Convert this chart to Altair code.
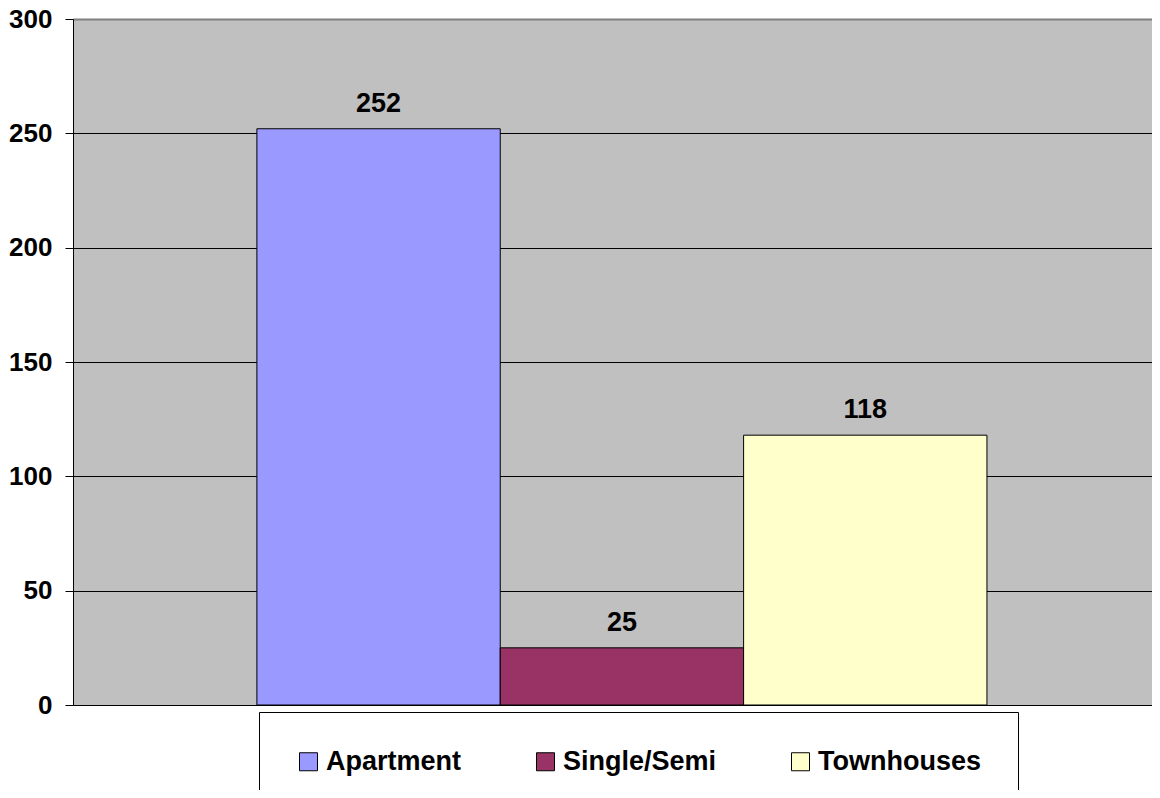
import altair as alt
import pandas as pd

categories = ["Apartment", "Single/Semi", "Townhouses"]
values = [252, 25, 118]
colors = ["#9999FF", "#993366", "#FFFFCC"]
y_ticks = [0, 50, 100, 150, 200, 250, 300]

df = pd.DataFrame({"type": categories, "value": values})

FONT = "Liberation Sans"
FS = 27

x_enc = alt.X(
    "type:N",
    sort=categories,
    scale=alt.Scale(paddingInner=0, paddingOuter=0.717, align=0.527),
    axis=alt.Axis(labels=False, ticks=False, title=None, domainColor="black",
                  domainWidth=1, grid=False),
)
y_enc = alt.Y(
    "value:Q",
    scale=alt.Scale(domain=[0, 300], nice=False, zero=True),
    axis=alt.Axis(
        values=y_ticks, title=None, tickSize=8, tickColor="black", tickWidth=1,
        domainColor="black", domainWidth=1, labelPadding=13,
        labelFont=FONT, labelFontSize=26, labelFontWeight="bold", labelColor="black",
        grid=True,
        gridColor={"condition": {"test": "datum.value === 300", "value": "#808080"}, "value": "black"},
        gridWidth={"condition": {"test": "datum.value === 300", "value": 2}, "value": 1},
        gridOpacity=1,
    ),
)

bars = alt.Chart(df).mark_bar(stroke="black", strokeWidth=1, opacity=1).encode(
    x=x_enc,
    y=y_enc,
    color=alt.Color(
        "type:N",
        sort=categories,
        scale=alt.Scale(domain=categories, range=colors),
        legend=alt.Legend(
            title=None, orient="none", legendX=186, legendY=693,
            direction="horizontal", symbolType="square", symbolSize=324,
            symbolStrokeColor="black", symbolStrokeWidth=1, symbolOpacity=1,
            labelFont=FONT, labelFontSize=FS, labelFontWeight="bold", labelColor="black",
            labelOffset=4, labelLimit=0, columnPadding=70, padding=36,
            strokeColor="black", fillColor="white",
        ),
    ),
)

labels = alt.Chart(df).mark_text(
    font=FONT, fontSize=FS, fontWeight="bold", color="black", baseline="middle", dy=-25
).encode(
    x=alt.X("type:N", sort=categories),
    y=alt.Y("value:Q"),
    text=alt.Text("value:Q"),
)

chart = alt.layer(bars, labels).properties(
    width=1079,
    height=686,
    autosize=alt.AutoSizeParams(type="none"),
    padding={"left": 65, "top": 11, "right": 0, "bottom": 85},
    background="white",
).configure_view(fill="#C0C0C0", stroke=None)

chart.save("out.html", embed_options={"renderer": "svg", "actions": False})
